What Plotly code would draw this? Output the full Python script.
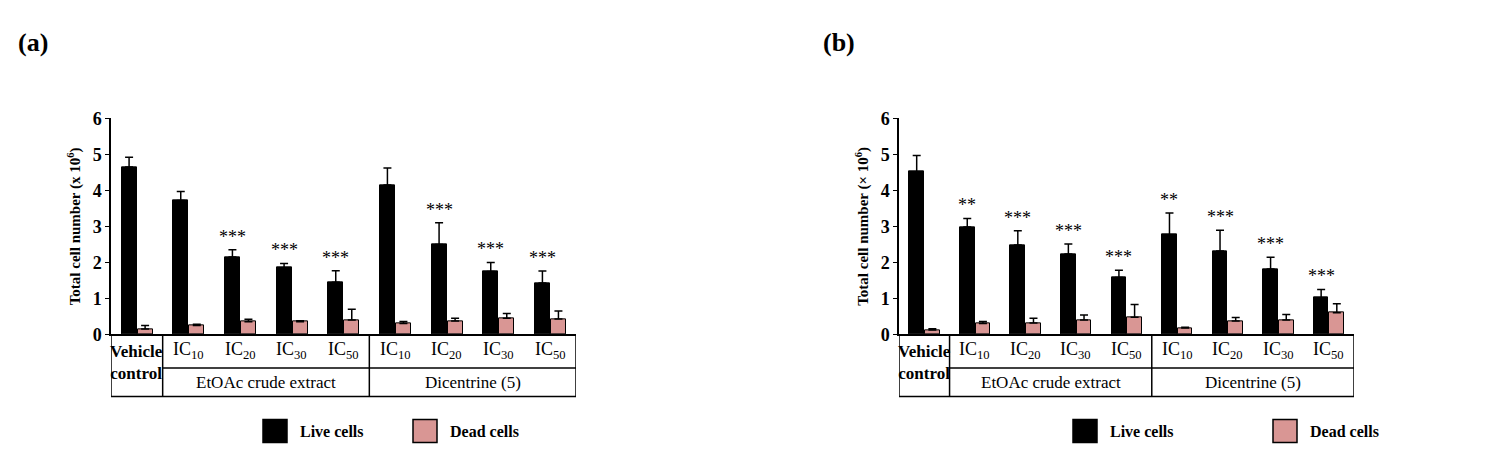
import plotly.graph_objects as go

cats = ["Vehicle control", "E IC10", "E IC20", "E IC30", "E IC50", "D IC10", "D IC20", "D IC30", "D IC50"]
ic_labels = ["IC<sub>10</sub>", "IC<sub>20</sub>", "IC<sub>30</sub>", "IC<sub>50</sub>"]
groups = ["EtOAc crude extract", "Dicentrine (5)"]

live_a = [4.65, 3.72, 2.15, 1.85, 1.45, 4.15, 2.50, 1.75, 1.43]
live_a_err = [0.27, 0.25, 0.20, 0.12, 0.32, 0.47, 0.60, 0.25, 0.33]
dead_a = [0.15, 0.25, 0.35, 0.35, 0.40, 0.30, 0.37, 0.45, 0.43]
dead_a_err = [0.10, 0.03, 0.07, 0.03, 0.30, 0.06, 0.08, 0.13, 0.22]
stars_a = ["", "", "***", "***", "***", "", "***", "***", "***"]

live_b = [4.52, 2.98, 2.48, 2.23, 1.58, 2.77, 2.32, 1.82, 1.02]
live_b_err = [0.45, 0.24, 0.40, 0.28, 0.20, 0.60, 0.57, 0.32, 0.23]
dead_b = [0.12, 0.30, 0.32, 0.40, 0.48, 0.18, 0.37, 0.40, 0.60]
dead_b_err = [0.04, 0.06, 0.13, 0.14, 0.35, 0.02, 0.10, 0.15, 0.25]
stars_b = ["", "**", "***", "***", "***", "**", "***", "***", "***"]

W, H = 1512, 454
PINK = "#d99694"
FONT = "Liberation Serif"
def px(x): return x / W
def py(y): return 1 - y / H

fig = go.Figure()
xs = list(range(len(cats)))
panels = [("x", "y", live_a, live_a_err, dead_a, dead_a_err, stars_a),
          ("x2", "y2", live_b, live_b_err, dead_b, dead_b_err, stars_b)]
for xa, ya, lv, le, dv, de, st in panels:
    fig.add_trace(go.Bar(x=xs, y=lv, width=0.29, offset=-0.295, marker=dict(color="black", line=dict(color="black", width=1)),
                         error_y=dict(type="data", array=le, arrayminus=[0]*9, symmetric=False, color="black", thickness=1.5, width=4),
                         xaxis=xa, yaxis=ya, showlegend=False))
    fig.add_trace(go.Bar(x=xs, y=dv, width=0.29, offset=0.015, marker=dict(color=PINK, line=dict(color="black", width=1)),
                         error_y=dict(type="data", array=de, arrayminus=[0]*9, symmetric=False, color="black", thickness=1.5, width=4),
                         xaxis=xa, yaxis=ya, showlegend=False))
    for i in xs:
        if st[i]:
            fig.add_annotation(x=i - 0.15, y=lv[i] + le[i], text=st[i], showarrow=False, yanchor="bottom", yshift=1,
                               xref=xa, yref=ya, font=dict(family=FONT, size=18, color="black"))
    lw = dict(color="black", width=1.5)
    for x0, y0, x1, y1 in [(-0.5, 331, -0.5, 396), (0.5, 331, 0.5, 396), (4.5, 331, 4.5, 396), (8.5, 331, 8.5, 396),
                           (0.5, 366, 8.5, 366), (-0.5, 396, 8.5, 396)]:
        fig.add_shape(type="line", xref=xa, yref="paper", x0=x0, x1=x1, y0=py(y0), y1=py(y1), line=lw)
    fig.add_annotation(x=0, y=py(360), xref=xa, yref="paper", yanchor="middle", text="<b>Vehicle<br>control</b>",
                       showarrow=False, font=dict(family=FONT, size=17, color="black"))
    for g in range(2):
        for k in range(4):
            fig.add_annotation(x=1 + 4*g + k, y=py(348), xref=xa, yref="paper", yanchor="middle", text=ic_labels[k],
                               showarrow=False, font=dict(family=FONT, size=18, color="black"))
        fig.add_annotation(x=2.5 + 4*g, y=py(381), xref=xa, yref="paper", yanchor="middle", text=groups[g],
                           showarrow=False, font=dict(family=FONT, size=17, color="black"))

for sq, tx, lab, col in [(255, 290, "Live cells", "black"), (405, 440, "Dead cells", PINK),
                         (1065, 1100, "Live cells", "black"), (1265, 1300, "Dead cells", PINK)]:
    fig.add_shape(type="rect", xref="paper", yref="paper", x0=px(sq), x1=px(sq + 24), y0=py(420), y1=py(444),
                  fillcolor=col, line=dict(color="black", width=1.5))
    fig.add_annotation(x=px(tx), y=py(433), xref="paper", yref="paper", text="<b>" + lab + "</b>", showarrow=False,
                       xanchor="left", yanchor="middle", font=dict(family=FONT, size=16, color="black"))

for t, x in [("(a)", 8), ("(b)", 813)]:
    fig.add_annotation(x=px(x), y=py(26), xref="paper", yref="paper", text="<b>" + t + "</b>", showarrow=False,
                       xanchor="left", yanchor="middle", font=dict(family=FONT, size=26, color="black"))

yax = dict(range=[0, 6], dtick=1, showgrid=False, showline=True, linecolor="black", linewidth=1.5, ticks="outside",
           ticklen=4, tickcolor="black", zeroline=False,
           tickfont=dict(family=FONT, size=18, color="black", weight="bold"),
           domain=[py(331), py(105)])
xax = dict(range=[-0.5, 8.5], showticklabels=False, showgrid=False, showline=True, linecolor="black", linewidth=1.5,
           zeroline=False, ticks="")
fig.update_layout(
    width=W, height=H, margin=dict(l=0, r=0, t=0, b=0), paper_bgcolor="white", plot_bgcolor="white",
    xaxis=dict(xax, domain=[px(103), px(568)]),
    xaxis2=dict(xax, domain=[px(891), px(1346)], anchor="y2"),
    yaxis=dict(yax, title=dict(text="<b>Total cell number (x 10<sup>6</sup>)</b>", font=dict(family=FONT, size=15, color="black"), standoff=8)),
    yaxis2=dict(yax, anchor="x2", title=dict(text="<b>Total cell number (× 10<sup>6</sup>)</b>", font=dict(family=FONT, size=15, color="black"), standoff=8)),
    bargap=0, showlegend=False,
)
fig.write_html("out.html")
